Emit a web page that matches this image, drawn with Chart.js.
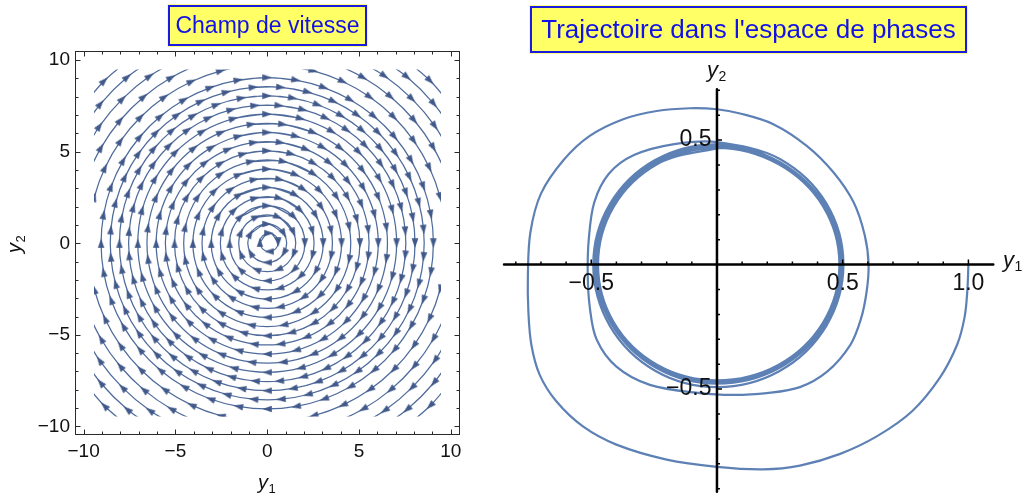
<!DOCTYPE html>
<html><head><meta charset="utf-8"><title>Champ de vitesse / Trajectoire dans l'espace de phases</title>
<script src="https://cdn.jsdelivr.net/npm/chart.js@4.4.1/dist/chart.umd.min.js"></script>
<style>
html,body{margin:0;padding:0;background:#fff;width:1026px;height:497px;overflow:hidden;position:relative;font-family:"Liberation Sans",Arial,sans-serif}
.box{position:absolute;box-sizing:border-box;background:#ffff66;border:2px solid #1a1ae0;color:#1212e8;text-align:center;white-space:nowrap;box-shadow:0 0 0 1px #ffff88}
#t1{left:168px;top:5px;width:199px;height:41px;font-size:23px;line-height:37px}
#t2{left:530px;top:6px;width:437px;height:47px;font-size:26px;line-height:42px}
canvas{position:absolute;top:0}
</style></head>
<body>
<canvas id="field" width="480" height="497" style="left:0;width:480px;height:497px"></canvas>
<canvas id="phase" width="536" height="497" style="left:490px;width:536px;height:497px"></canvas>
<div class="box" id="t1">Champ de vitesse</div>
<div class="box" id="t2">Trajectoire dans l'espace de phases</div>
<script>
// ---------- Left panel: stream lines (clockwise) ----------
const fieldTicks = [-10, -5, 0, 5, 10];
const fieldTickLabels = ['\u221210', '\u22125', '0', '5', '10'];
const fieldMinorTicks = [-10,-9,-8,-7,-6,-5,-4,-3,-2,-1,0,1,2,3,4,5,6,7,8,9,10];

const ring01 = [[0.1,0.55],[0.6,0.05],[0.1,-0.45],[-0.4,0.05]];
const ring02 = [[0,1.05],[0.909,0.525],[0.909,-0.525],[0,-1.05],[-0.909,-0.525],[-0.909,0.525]];
const ring03 = [[0.593,1.432],[1.432,0.593],[1.432,-0.593],[0.593,-1.432],[-0.593,-1.432],[-1.432,-0.593],[-1.432,0.593],[-0.593,1.432]];
const ring04 = [[0,2.05],[1.45,1.45],[2.05,0],[1.45,-1.45],[0,-2.05],[-1.45,-1.45],[-2.05,0],[-1.45,1.45]];
const ring05 = [[0.66,2.463],[1.803,1.803],[2.463,0.66],[2.463,-0.66],[1.803,-1.803],[0.66,-2.463],[-0.66,-2.463],[-1.803,-1.803],[-2.463,-0.66],[-2.463,0.66],[-1.803,1.803],[-0.66,2.463]];
const ring06 = [[0,3.05],[1.525,2.641],[2.641,1.525],[3.05,0],[2.641,-1.525],[1.525,-2.641],[0,-3.05],[-1.525,-2.641],[-2.641,-1.525],[-3.05,0],[-2.641,1.525],[-1.525,2.641]];
const ring07 = [[0.693,3.482],[1.972,2.952],[2.952,1.972],[3.482,0.693],[3.482,-0.693],[2.952,-1.972],[1.972,-2.952],[0.693,-3.482],[-0.693,-3.482],[-1.972,-2.952],[-2.952,-1.972],[-3.482,-0.693],[-3.482,0.693],[-2.952,1.972],[-1.972,2.952],[-0.693,3.482]];
const ring08 = [[0,4.05],[1.55,3.742],[2.864,2.864],[3.742,1.55],[4.05,0],[3.742,-1.55],[2.864,-2.864],[1.55,-3.742],[0,-4.05],[-1.55,-3.742],[-2.864,-2.864],[-3.742,-1.55],[-4.05,0],[-3.742,1.55],[-2.864,2.864],[-1.55,3.742]];
const ring09 = [[0.888,4.463],[2.528,3.783],[3.783,2.528],[4.463,0.888],[4.463,-0.888],[3.783,-2.528],[2.528,-3.783],[0.888,-4.463],[-0.888,-4.463],[-2.528,-3.783],[-3.783,-2.528],[-4.463,-0.888],[-4.463,0.888],[-3.783,2.528],[-2.528,3.783],[-0.888,4.463]];
const ring10 = [[0,5.05],[1.307,4.878],[2.525,4.373],[3.571,3.571],[4.373,2.525],[4.878,1.307],[5.05,0],[4.878,-1.307],[4.373,-2.525],[3.571,-3.571],[2.525,-4.373],[1.307,-4.878],[0,-5.05],[-1.307,-4.878],[-2.525,-4.373],[-3.571,-3.571],[-4.373,-2.525],[-4.878,-1.307],[-5.05,0],[-4.878,1.307],[-4.373,2.525],[-3.571,3.571],[-2.525,4.373],[-1.307,4.878]];
const ring11 = [[0.724,5.502],[2.124,5.128],[3.379,4.403],[4.403,3.379],[5.128,2.124],[5.502,0.724],[5.502,-0.724],[5.128,-2.124],[4.403,-3.379],[3.379,-4.403],[2.124,-5.128],[0.724,-5.502],[-0.724,-5.502],[-2.124,-5.128],[-3.379,-4.403],[-4.403,-3.379],[-5.128,-2.124],[-5.502,-0.724],[-5.502,0.724],[-5.128,2.124],[-4.403,3.379],[-3.379,4.403],[-2.124,5.128],[-0.724,5.502]];
const ring12 = [[0,6.05],[1.566,5.844],[3.025,5.239],[4.278,4.278],[5.239,3.025],[5.844,1.566],[6.05,0],[5.844,-1.566],[5.239,-3.025],[4.278,-4.278],[3.025,-5.239],[1.566,-5.844],[0,-6.05],[-1.566,-5.844],[-3.025,-5.239],[-4.278,-4.278],[-5.239,-3.025],[-5.844,-1.566],[-6.05,0],[-5.844,1.566],[-5.239,3.025],[-4.278,4.278],[-3.025,5.239],[-1.566,5.844]];
const ring13 = [[0.855,6.494],[2.507,6.052],[3.988,5.197],[5.197,3.988],[6.052,2.507],[6.494,0.855],[6.494,-0.855],[6.052,-2.507],[5.197,-3.988],[3.988,-5.197],[2.507,-6.052],[0.855,-6.494],[-0.855,-6.494],[-2.507,-6.052],[-3.988,-5.197],[-5.197,-3.988],[-6.052,-2.507],[-6.494,-0.855],[-6.494,0.855],[-6.052,2.507],[-5.197,3.988],[-3.988,5.197],[-2.507,6.052],[-0.855,6.494]];
const ring14 = [[0,7.05],[1.825,6.81],[3.525,6.105],[4.985,4.985],[6.105,3.525],[6.81,1.825],[7.05,0],[6.81,-1.825],[6.105,-3.525],[4.985,-4.985],[3.525,-6.105],[1.825,-6.81],[0,-7.05],[-1.825,-6.81],[-3.525,-6.105],[-4.985,-4.985],[-6.105,-3.525],[-6.81,-1.825],[-7.05,0],[-6.81,1.825],[-6.105,3.525],[-4.985,4.985],[-3.525,6.105],[-1.825,6.81]];
const ring15 = [[0.658,7.521],[1.954,7.293],[3.191,6.843],[4.331,6.185],[5.339,5.339],[6.185,4.331],[6.843,3.191],[7.293,1.954],[7.521,0.658],
  [7.521,-0.658],[7.293,-1.954],[6.843,-3.191],[6.185,-4.331],[5.339,-5.339],[4.331,-6.185],[3.191,-6.843],[1.954,-7.293],[0.658,-7.521],
  [-0.658,-7.521],[-1.954,-7.293],[-3.191,-6.843],[-4.331,-6.185],[-5.339,-5.339],[-6.185,-4.331],[-6.843,-3.191],[-7.293,-1.954],[-7.521,-0.658],
  [-7.521,0.658],[-7.293,1.954],[-6.843,3.191],[-6.185,4.331],[-5.339,5.339],[-4.331,6.185],[-3.191,6.843],[-1.954,7.293],[-0.658,7.521]];
const ring16 = [[0,8.05],[1.397,7.928],[2.753,7.565],[4.025,6.971],[5.175,6.166],[6.166,5.175],[6.971,4.025],[7.565,2.753],[7.928,1.397],
  [8.05,0],[7.928,-1.397],[7.565,-2.753],[6.971,-4.025],[6.166,-5.175],[5.175,-6.166],[4.025,-6.971],[2.753,-7.565],[1.397,-7.928],
  [0,-8.05],[-1.397,-7.928],[-2.753,-7.565],[-4.025,-6.971],[-5.175,-6.166],[-6.166,-5.175],[-6.971,-4.025],[-7.565,-2.753],[-7.928,-1.397],
  [-8.05,0],[-7.928,1.397],[-7.565,2.753],[-6.971,4.025],[-6.166,5.175],[-5.175,6.166],[-4.025,6.971],[-2.753,7.565],[-1.397,7.928]];
const ring17 = [[0.746,8.517],[2.213,8.258],[3.613,7.749],[4.904,7.004],[6.046,6.046],[7.004,4.904],[7.749,3.613],[8.258,2.213],[8.517,0.746],
  [8.517,-0.746],[8.258,-2.213],[7.749,-3.613],[7.004,-4.904],[6.046,-6.046],[4.904,-7.004],[3.613,-7.749],[2.213,-8.258],[0.746,-8.517],
  [-0.746,-8.517],[-2.213,-8.258],[-3.613,-7.749],[-4.904,-7.004],[-6.046,-6.046],[-7.004,-4.904],[-7.749,-3.613],[-8.258,-2.213],[-8.517,-0.746],
  [-8.517,0.746],[-8.258,2.213],[-7.749,3.613],[-7.004,4.904],[-6.046,6.046],[-4.904,7.004],[-3.613,7.749],[-2.213,8.258],[-0.746,8.517]];
const ring18 = [[0,9.05],[1.571,8.912],[3.095,8.504],[4.525,7.837],[5.817,6.932],[6.932,5.817],[7.837,4.525],[8.504,3.095],[8.912,1.571],
  [9.05,0],[8.912,-1.571],[8.504,-3.095],[7.837,-4.525],[6.932,-5.817],[5.817,-6.932],[4.525,-7.837],[3.095,-8.504],[1.571,-8.912],
  [0,-9.05],[-1.571,-8.912],[-3.095,-8.504],[-4.525,-7.837],[-5.817,-6.932],[-6.932,-5.817],[-7.837,-4.525],[-8.504,-3.095],[-8.912,-1.571],
  [-9.05,0],[-8.912,1.571],[-8.504,3.095],[-7.837,4.525],[-6.932,5.817],[-5.817,6.932],[-4.525,7.837],[-3.095,8.504],[-1.571,8.912]];
const ring19 = [[0.85,9.713],[2.523,9.418],[4.12,8.836],[5.593,7.987],[6.894,6.894],[7.987,5.593],[8.836,4.12],[9.418,2.523],[9.713,0.85],
  [9.713,-0.85],[9.418,-2.523],[8.836,-4.12],[7.987,-5.593],[6.894,-6.894],[5.593,-7.987],[4.12,-8.836],[2.523,-9.418],[0.85,-9.713],
  [-0.85,-9.713],[-2.523,-9.418],[-4.12,-8.836],[-5.593,-7.987],[-6.894,-6.894],[-7.987,-5.593],[-8.836,-4.12],[-9.418,-2.523],[-9.713,-0.85],
  [-9.713,0.85],[-9.418,2.523],[-8.836,4.12],[-7.987,5.593],[-6.894,6.894],[-5.593,7.987],[-4.12,8.836],[-2.523,9.418],[-0.85,9.713]];
const ring20 = [[0,10.45],[1.814,10.291],[3.574,9.82],[5.225,9.05],[6.717,8.005],[8.005,6.717],[9.05,5.225],[9.82,3.574],[10.291,1.814],
  [10.45,0],[10.291,-1.814],[9.82,-3.574],[9.05,-5.225],[8.005,-6.717],[6.717,-8.005],[5.225,-9.05],[3.574,-9.82],[1.814,-10.291],
  [0,-10.45],[-1.814,-10.291],[-3.574,-9.82],[-5.225,-9.05],[-6.717,-8.005],[-8.005,-6.717],[-9.05,-5.225],[-9.82,-3.574],[-10.291,-1.814],
  [-10.45,0],[-10.291,1.814],[-9.82,3.574],[-9.05,5.225],[-8.005,6.717],[-6.717,8.005],[-5.225,9.05],[-3.574,9.82],[-1.814,10.291]];
const cornerArcsA = [
  [[4.712,10.105],[6.396,9.134],[7.884,7.884],[9.134,6.396],[10.105,4.712]],
  [[10.105,-4.712],[9.134,-6.396],[7.884,-7.884],[6.396,-9.134],[4.712,-10.105]],
  [[-4.712,-10.105],[-6.396,-9.134],[-7.884,-7.884],[-9.134,-6.396],[-10.105,-4.712]],
  [[-10.105,4.712],[-9.134,6.396],[-7.884,7.884],[-6.396,9.134],[-4.712,10.105]]];
const cornerArcsB = [
  [[5.925,10.262],[7.617,9.077],[9.077,7.617],[10.262,5.925]],
  [[10.262,-5.925],[9.077,-7.617],[7.617,-9.077],[5.925,-10.262]],
  [[-5.925,-10.262],[-7.617,-9.077],[-9.077,-7.617],[-10.262,-5.925]],
  [[-10.262,5.925],[-9.077,7.617],[-7.617,9.077],[-5.925,10.262]]];
const cornerArcsC = [
  [[7.199,10.281],[8.874,8.874],[10.281,7.199]],
  [[10.281,-7.199],[8.874,-8.874],[7.199,-10.281]],
  [[-7.199,-10.281],[-8.874,-8.874],[-10.281,-7.199]],
  [[-10.281,7.199],[-8.874,8.874],[-7.199,10.281]]];

// ---------- Right panel: trajectory in phase space ----------
const trajX = [1.000,0.996,0.985,0.955,0.886,0.776,0.637,0.490,0.330,0.184,0.000,-0.200,-0.400,-0.533,-0.639,-0.705,-0.738,-0.750,-0.752,-0.742,-0.700,-0.610,-0.506,-0.373,-0.240,-0.108,0.000,0.092,0.224,0.357,0.463,0.543,0.588,0.603,
  0.595,0.572,0.530,0.438,0.330,0.198,0.066,-0.068,-0.267,-0.400,-0.479,-0.506,-0.514,-0.510,-0.488,-0.430,-0.330,-0.170,0.000,
  0.250,0.435,0.503,0.435,0.251,0.000,-0.246,-0.426,-0.492,-0.426,-0.246,0.000,
  0.249,0.430,0.497,0.430,0.249,0.000,-0.242,-0.419,-0.484,-0.419,-0.242,0.000,
  0.246,0.426,0.492,0.426,0.246,0.000,-0.240,-0.416,-0.480,-0.416,-0.240,0.000,
  0.245,0.424,0.489,0.424,0.245,0.000,-0.238,-0.412,-0.476,-0.412,-0.238,0.000,
  0.244,0.422,0.487,0.422,0.244,0.000,-0.237,-0.410,-0.473,-0.410,-0.237,0.000,0.060];
const trajY = [0.000,-0.100,-0.210,-0.322,-0.455,-0.589,-0.689,-0.760,-0.807,-0.822,-0.812,-0.783,-0.723,-0.650,-0.549,-0.443,-0.323,-0.190,-0.040,0.130,0.285,0.420,0.517,0.584,0.617,0.628,0.624,0.607,0.564,0.477,0.371,0.251,0.117,0.000,
  -0.110,-0.220,-0.323,-0.430,-0.492,-0.516,-0.523,-0.516,-0.483,-0.410,-0.300,-0.170,-0.040,0.100,0.250,0.365,0.440,0.484,0.492,
  0.424,0.246,0.000,-0.246,-0.426,-0.492,-0.426,-0.246,0.000,0.243,0.420,0.483,
  0.412,0.238,0.000,-0.239,-0.414,-0.478,-0.414,-0.239,0.000,0.238,0.412,0.476,
  0.409,0.236,0.000,-0.236,-0.409,-0.472,-0.409,-0.236,0.000,0.236,0.409,0.472,
  0.406,0.235,0.000,-0.234,-0.405,-0.468,-0.405,-0.234,0.000,0.235,0.406,0.469,
  0.404,0.234,0.000,-0.233,-0.403,-0.465,-0.403,-0.233,0.000,0.234,0.404,0.467,0.466];
const phaseTicksX = [-0.5, 0.5, 1.0];
const phaseTickLabelsX = ['\u22120.5', '0.5', '1.0'];
const phaseTicksY = [-0.5, 0.5];
const phaseTickLabelsY = ['\u22120.5', '0.5'];
const phaseMinorX = [-0.8,-0.7,-0.6,-0.5,-0.4,-0.3,-0.2,-0.1,0.1,0.2,0.3,0.4,0.5,0.6,0.7,0.8,0.9,1.0];
const phaseMinorY = [-0.9,-0.8,-0.7,-0.6,-0.5,-0.4,-0.3,-0.2,-0.1,0.1,0.2,0.3,0.4,0.5,0.6,0.7];

// ---------- styling / building ----------
const FONT = '"Liberation Sans", Arial, Helvetica, sans-serif';
Chart.defaults.font.family = FONT;
const STREAM_COLOR = '#4f6b9c';
const ARROW_COLOR = '#41598a';
const TRAJ_COLOR = 'rgb(94,129,181)';

const arrowHead = document.createElement('canvas');
arrowHead.width = 8; arrowHead.height = 10;
(function(){
  const c = arrowHead.getContext('2d');
  c.fillStyle = ARROW_COLOR;
  c.beginPath(); c.moveTo(4, 0.3); c.lineTo(7.3, 9.7); c.lineTo(0.7, 9.7); c.closePath(); c.fill();
})();

function arrowAngle(c) {
  const d = c.dataset.data, i = c.dataIndex;
  const p = d[Math.max(0, i - 1)], q = d[Math.min(d.length - 1, i + 1)];
  return Math.atan2(q.x - p.x, q.y - p.y) * 180 / Math.PI;
}
function tensionFor(n) { return n <= 4 ? 0.55 : n <= 6 ? 0.41 : n <= 8 ? 0.375 : 0.34; }
function streamDataset(pts, closed) {
  const n = pts.length;
  const seq = closed ? [pts[n - 1]].concat(pts, [pts[0], pts[1]]) : pts;
  const lo = closed ? 1 : 0, hi = closed ? n : n - 1;
  return {
    data: seq.map(p => ({x: p[0], y: p[1]})),
    showLine: true, borderColor: STREAM_COLOR, borderWidth: 1.25,
    tension: closed ? tensionFor(n) : 0.34,
    pointStyle: arrowHead,
    pointRadius: c => (c.dataIndex >= lo && c.dataIndex <= hi) ? 3 : 0,
    pointRotation: arrowAngle,
    clip: {left: -19, right: -19, top: -18.5, bottom: -18.5}
  };
}
const closedRings = [ring01,ring02,ring03,ring04,ring05,ring06,ring07,ring08,ring09,ring10,ring11,ring12,ring13,ring14,ring15,ring16,ring17,ring18,ring19,ring20];
const openArcs = cornerArcsA.concat(cornerArcsB, cornerArcsC);
const fieldDatasets = closedRings.map(r => streamDataset(r, true)).concat(openArcs.map(a => streamDataset(a, false)));

function drawSubLabel(ctx, base, sub, x, y, size, subSize, rot) {
  ctx.save();
  ctx.translate(x, y);
  if (rot) ctx.rotate(rot);
  ctx.fillStyle = '#111';
  ctx.textAlign = 'left'; ctx.textBaseline = 'alphabetic';
  ctx.font = 'italic ' + size + 'px ' + FONT;
  ctx.fillText(base, 0, 0);
  const w = ctx.measureText(base).width;
  ctx.font = subSize + 'px ' + FONT;
  ctx.fillText(sub, w + 0.5, subSize * 0.3);
  ctx.restore();
}

const framePlugin = {
  id: 'frame',
  afterDraw(chart) {
    const {ctx, chartArea: a, scales: {x, y}} = chart;
    ctx.save();
    ctx.strokeStyle = '#2a2a2a'; ctx.lineWidth = 1;
    const L = Math.round(a.left) + 0.5, R = Math.round(a.right) - 0.5, T = Math.round(a.top) + 0.5, B = Math.round(a.bottom) - 0.5;
    ctx.strokeRect(L, T, R - L, B - T);
    ctx.beginPath();
    fieldMinorTicks.forEach(v => {
      const len = (v % 5 === 0) ? 5 : 3;
      const px = Math.round(x.getPixelForValue(v)) + 0.5;
      ctx.moveTo(px, B); ctx.lineTo(px, B - len);
      ctx.moveTo(px, T); ctx.lineTo(px, T + len);
      const py = Math.round(y.getPixelForValue(v)) + 0.5;
      ctx.moveTo(L, py); ctx.lineTo(L + len, py);
      ctx.moveTo(R, py); ctx.lineTo(R - len, py);
    });
    ctx.stroke();
    ctx.restore();
    drawSubLabel(ctx, 'y', '1', 258, 489, 20, 13, 0);
    drawSubLabel(ctx, 'y', '2', 21, 253, 20, 13, -Math.PI / 2);
  }
};

new Chart(document.getElementById('field'), {
  type: 'scatter',
  data: {datasets: fieldDatasets},
  options: {
    responsive: false, animation: false, events: [],
    layout: {padding: {left: 0, right: 20, top: 51, bottom: 0}},
    plugins: {legend: {display: false}, tooltip: {enabled: false}},
    scales: {
      x: {
        type: 'linear', position: 'bottom', min: -10.47, max: 10.5,
        afterBuildTicks: s => { s.ticks = fieldTicks.map(v => ({value: v})); },
        afterFit: s => { s.height = 62; },
        grid: {display: false, drawTicks: false}, border: {display: false},
        ticks: {autoSkip: false, maxRotation: 0, padding: 5, color: '#111', font: {size: 19},
          callback: v => fieldTickLabels[fieldTicks.indexOf(v)]}
      },
      y: {
        type: 'linear', position: 'left', min: -10.47, max: 10.5,
        afterBuildTicks: s => { s.ticks = fieldTicks.map(v => ({value: v})); },
        afterFit: s => { s.width = 75; },
        grid: {display: false, drawTicks: false}, border: {display: false},
        ticks: {autoSkip: false, padding: 5, color: '#111', font: {size: 19},
          callback: v => fieldTickLabels[fieldTicks.indexOf(v)]}
      }
    }
  },
  plugins: [framePlugin]
});

// axes through the origin, drawn from the chart's own scales
const phaseAxes = {
  id: 'phaseAxes',
  afterDatasetsDraw(chart) {
    const {ctx, chartArea: a, scales: {x, y}} = chart;
    const x0 = x.getPixelForValue(0), y0 = y.getPixelForValue(0);
    ctx.save();
    ctx.strokeStyle = '#000'; ctx.lineWidth = 2.5; ctx.lineCap = 'round';
    ctx.beginPath();
    ctx.moveTo(a.left, y0); ctx.lineTo(a.right, y0);
    ctx.moveTo(x0, a.top); ctx.lineTo(x0, a.bottom);
    ctx.stroke();
    ctx.lineWidth = 1.5; ctx.lineCap = 'butt';
    ctx.beginPath();
    phaseMinorX.forEach(v => {
      const px = x.getPixelForValue(v);
      const len = phaseTicksX.indexOf(v) >= 0 ? 5 : 3;
      ctx.moveTo(px, y0); ctx.lineTo(px, y0 - len);
    });
    phaseMinorY.forEach(v => {
      const py = y.getPixelForValue(v);
      const len = phaseTicksY.indexOf(v) >= 0 ? 5 : 3;
      ctx.moveTo(x0, py); ctx.lineTo(x0 + len, py);
    });
    ctx.stroke();
    ctx.fillStyle = '#111';
    ctx.font = '23px ' + FONT;
    ctx.textBaseline = 'middle';
    ctx.textAlign = 'center';
    phaseTicksX.forEach((v, i) => ctx.fillText(phaseTickLabelsX[i], x.getPixelForValue(v), y0 + 19));
    ctx.textAlign = 'right';
    phaseTicksY.forEach((v, i) => ctx.fillText(phaseTickLabelsY[i], x0 - 5.5, y.getPixelForValue(v) - 0.5));
    ctx.restore();
    drawSubLabel(ctx, 'y', '2', 217, 76.5, 22, 14, 0);
    drawSubLabel(ctx, 'y', '1', 513, 266.5, 22, 14, 0);
  }
};

new Chart(document.getElementById('phase'), {
  type: 'scatter',
  data: {datasets: [{
    data: trajX.map((v, i) => ({x: v, y: trajY[i]})),
    showLine: true, borderColor: TRAJ_COLOR, borderWidth: 2.2, tension: 0.34,
    pointRadius: 0, clip: false
  }]},
  options: {
    responsive: false, animation: false, events: [],
    layout: {padding: {left: 14, right: 32.7, top: 89.3, bottom: 5.3}},
    plugins: {legend: {display: false}, tooltip: {enabled: false}},
    scales: {
      x: {type: 'linear', display: false, min: -0.847, max: 1.099},
      y: {type: 'linear', display: false, min: -0.912, max: 0.704}
    }
  },
  plugins: [phaseAxes]
});
</script>
</body></html>
